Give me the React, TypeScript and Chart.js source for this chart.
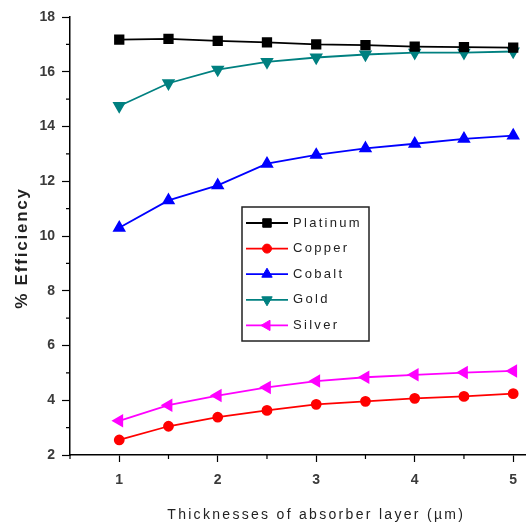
import React, { useEffect, useRef } from "react";
import { Chart, registerables } from "chart.js";
import { drawPoint } from "chart.js/helpers";

Chart.register(...registerables);

const thickness = [1, 1.5, 2, 2.5, 3, 3.5, 4, 4.5, 5];
const platinum = [17.17, 17.2, 17.13, 17.07, 17.0, 16.97, 16.92, 16.9, 16.88];
const copper = [2.55, 3.05, 3.38, 3.63, 3.85, 3.96, 4.07, 4.14, 4.24];
const cobalt = [10.3, 11.3, 11.85, 12.64, 12.96, 13.2, 13.37, 13.55, 13.67];
const gold = [14.75, 15.58, 16.08, 16.36, 16.52, 16.63, 16.7, 16.7, 16.74];
const silver = [3.25, 3.82, 4.17, 4.47, 4.7, 4.84, 4.93, 5.01, 5.07];

const xTicks = [1, 2, 3, 4, 5];
const xMinorTicks = [0.5, 1.5, 2.5, 3.5, 4.5];
const yTicks = [2, 4, 6, 8, 10, 12, 14, 16, 18];
const yMinorTicks = [3, 5, 7, 9, 11, 13, 15, 17];

const xTitle = "Thicknesses of absorber layer (\u00b5m)";
const yTitle = "% Efficiency";

const TICK_FONT = '"Liberation Sans Narrow", "Liberation Sans", Arial, sans-serif';
const MAIN_FONT = '"Liberation Sans", Arial, sans-serif';

const pts = (ys: number[]) => thickness.map((x, i) => ({ x, y: ys[i] }));

const extrasPlugin = {
  id: "extras",
  afterDraw(chart: any) {
    const ctx = chart.ctx as CanvasRenderingContext2D;
    const area = chart.chartArea;
    const xs = chart.scales.x;
    const ys = chart.scales.y;
    ctx.save();
    // minor ticks
    ctx.strokeStyle = "#000";
    ctx.lineWidth = 1.2;
    ctx.beginPath();
    xMinorTicks.forEach((v) => {
      const px = xs.getPixelForValue(v);
      ctx.moveTo(px, area.bottom);
      ctx.lineTo(px, area.bottom + 4);
    });
    yMinorTicks.forEach((v) => {
      const py = ys.getPixelForValue(v);
      ctx.moveTo(area.left, py);
      ctx.lineTo(area.left - 4, py);
    });
    ctx.stroke();

    // x title
    ctx.fillStyle = "#222";
    ctx.font = `14px ${MAIN_FONT}`;
    (ctx as any).letterSpacing = "2.3px";
    ctx.textAlign = "center";
    ctx.textBaseline = "middle";
    ctx.fillText(xTitle, xs.getPixelForValue(3), area.bottom + 60);
    (ctx as any).letterSpacing = "0px";

    // y title
    ctx.save();
    ctx.translate(22, area.top + 231);
    ctx.rotate(-Math.PI / 2);
    ctx.font = `bold 17px ${MAIN_FONT}`;
    (ctx as any).letterSpacing = "1.8px";
    ctx.fillStyle = "#222";
    ctx.textAlign = "center";
    ctx.textBaseline = "middle";
    ctx.fillText(yTitle, 0, 0);
    (ctx as any).letterSpacing = "0px";
    ctx.restore();

    // legend
    const lx = area.left + 172;
    const ly = area.top + 190;
    const lw = 127;
    const lh = 134;
    ctx.fillStyle = "#fff";
    ctx.fillRect(lx, ly, lw, lh);
    ctx.strokeStyle = "#222";
    ctx.lineWidth = 1.5;
    ctx.strokeRect(lx, ly, lw, lh);
    chart.data.datasets.forEach((ds: any, i: number) => {
      const cy = ly + 16 + i * 25.6;
      ctx.strokeStyle = ds.borderColor;
      ctx.lineWidth = 1.8;
      ctx.beginPath();
      ctx.moveTo(lx + 4, cy);
      ctx.lineTo(lx + 46, cy);
      ctx.stroke();
      ctx.fillStyle = ds.pointBackgroundColor;
      ctx.strokeStyle = ds.pointBorderColor;
      ctx.lineWidth = 1;
      drawPoint(ctx, { pointStyle: ds.pointStyle, rotation: ds.pointRotation || 0, radius: ds.pointRadius, borderWidth: 1 }, lx + 25, cy);
      ctx.fillStyle = "#222";
      ctx.font = `13px ${MAIN_FONT}`;
      (ctx as any).letterSpacing = "2.3px";
      ctx.textAlign = "left";
      ctx.textBaseline = "middle";
      ctx.fillText(ds.label, lx + 51, cy);
      (ctx as any).letterSpacing = "0px";
    });
    ctx.restore();
  },
};

const bgPlugin = {
  id: "bg",
  beforeDraw(chart: any) {
    const ctx = chart.ctx;
    ctx.save();
    ctx.fillStyle = "#fff";
    ctx.fillRect(0, 0, chart.width, chart.height);
    ctx.restore();
  },
};

function mkSet(label: string, ys: number[], color: string, style: string, radius: number, rotation = 0) {
  return {
    label,
    data: pts(ys),
    borderColor: color,
    backgroundColor: color,
    pointBackgroundColor: color,
    pointBorderColor: color,
    pointStyle: style,
    pointRadius: radius,
    pointRotation: rotation,
    borderWidth: 1.8,
    tension: 0,
    clip: false,
  };
}

export default function App() {
  const ref = useRef<HTMLCanvasElement | null>(null);
  useEffect(() => {
    document.body.style.margin = "0";
    const chart = new Chart(ref.current!, {
      type: "line",
      data: {
        datasets: [
          mkSet("Platinum", platinum, "#000000", "rect", 6),
          mkSet("Copper", copper, "#ff0000", "circle", 4.5),
          mkSet("Cobalt", cobalt, "#0000ff", "triangle", 6),
          mkSet("Gold", gold, "#008080", "triangle", 6, 180),
          mkSet("Silver", silver, "#ff00ff", "triangle", 6, 270),
        ] as any,
      },
      options: {
        responsive: false,
        animation: false,
        layout: { autoPadding: false, padding: { top: 17, left: 0, right: 0, bottom: 0 } },
        plugins: { legend: { display: false }, tooltip: { enabled: false } },
        scales: {
          x: {
            type: "linear",
            min: 0.5,
            max: 5.13,
            afterBuildTicks: (s: any) => {
              s.ticks = xTicks.map((v) => ({ value: v }));
            },
            afterFit: (s: any) => {
              s.height = 72;
              s.paddingLeft = 0;
              s.paddingRight = 0;
            },
            border: { color: "#000", width: 1.5 },
            grid: { drawOnChartArea: false, tickLength: 7, color: "#000", tickWidth: 1.2 },
            ticks: {
              color: "#3a3a3a",
              padding: 10,
              font: { family: TICK_FONT, size: 14, weight: "bold" },
              callback: (v: any) => String(v),
            },
          },
          y: {
            type: "linear",
            min: 2,
            max: 18,
            afterBuildTicks: (s: any) => {
              s.ticks = yTicks.map((v) => ({ value: v }));
            },
            afterFit: (s: any) => {
              s.width = 70;
              s.paddingTop = 0;
              s.paddingBottom = 0;
            },
            border: { color: "#000", width: 1.5 },
            grid: { drawOnChartArea: false, tickLength: 8, color: "#000", tickWidth: 1.2 },
            ticks: {
              color: "#3a3a3a",
              padding: 7,
              font: { family: TICK_FONT, size: 14, weight: "bold" },
              callback: (v: any) => String(v),
            },
          },
        },
      },
      plugins: [bgPlugin, extrasPlugin],
    });
    return () => chart.destroy();
  }, []);
  return (
    <div style={{ position: "absolute", left: 0, top: 0, width: 526, height: 527 }}>
      <canvas ref={ref} width={526} height={527} />
    </div>
  );
}
